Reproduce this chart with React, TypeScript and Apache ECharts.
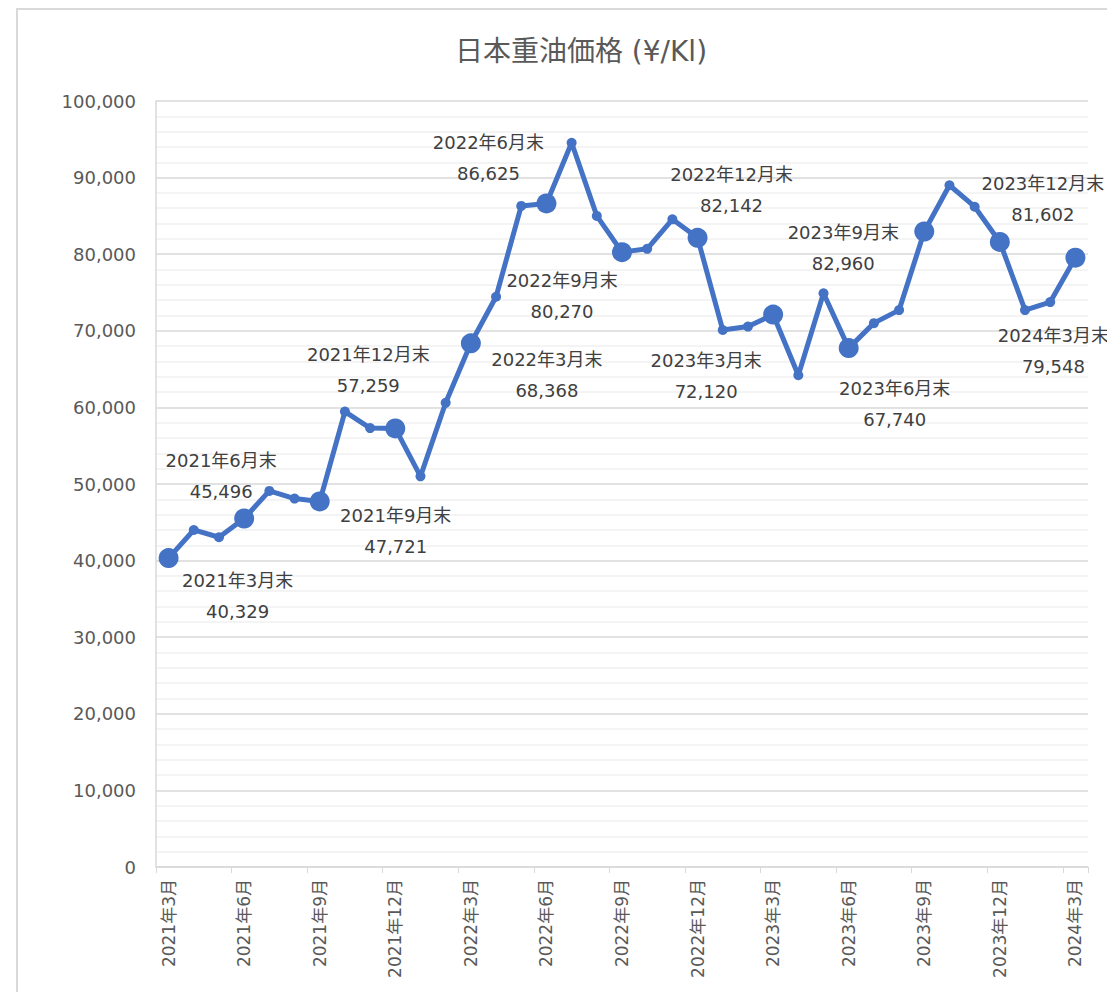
import React, { useEffect, useRef } from "react";
import * as echarts from "echarts";

const categories: string[] = [
  "2021年3月", "2021年4月", "2021年5月", "2021年6月", "2021年7月", "2021年8月",
  "2021年9月", "2021年10月", "2021年11月", "2021年12月", "2022年1月", "2022年2月",
  "2022年3月", "2022年4月", "2022年5月", "2022年6月", "2022年7月", "2022年8月",
  "2022年9月", "2022年10月", "2022年11月", "2022年12月", "2023年1月", "2023年2月",
  "2023年3月", "2023年4月", "2023年5月", "2023年6月", "2023年7月", "2023年8月",
  "2023年9月", "2023年10月", "2023年11月", "2023年12月", "2024年1月", "2024年2月",
  "2024年3月",
];

const prices: number[] = [
  40329, 44000, 43050, 45496, 49100, 48100,
  47721, 59450, 57300, 57259, 51000, 60600,
  68368, 74450, 86300, 86625, 94550, 85000,
  80270, 80700, 84550, 82142, 70100, 70550,
  72120, 64200, 74900, 67740, 71000, 72700,
  82960, 89000, 86200, 81602, 72700, 73750,
  79548,
];

// quarter-end highlighted points: index -> label offset [dx, dy]
const highlightIdx: number[] = [0, 3, 6, 9, 12, 15, 18, 21, 24, 27, 30, 33, 36];
const labelOffsets: [number, number][] = [
  [69, 38], [-23, -43], [76, 30], [-27, -58], [76, 32], [-58, -45], [-60, 44],
  [34, -48], [-67, 61], [46, 56], [-81, 16], [43, -43], [-22, 93],
];

const FONT = "'DejaVu Sans', 'Noto Sans CJK JP', sans-serif";

export default function App() {
  const ref = useRef<HTMLDivElement>(null);
  useEffect(() => {
    if (!ref.current) return;
    const chart = echarts.init(ref.current, undefined, { renderer: "svg" });
    const data = prices.map((v, i) => {
      const h = highlightIdx.indexOf(i);
      if (h < 0) return { value: v, symbolSize: 10 };
      const cat = categories[i];
      return {
        value: v,
        symbolSize: 20,
        label: {
          show: true,
          position: "inside",
          offset: labelOffsets[h],
          align: "center",
          verticalAlign: "middle",
          formatter: () => `${cat}末\n${v.toLocaleString("en-US")}`,
          fontSize: 18,
          lineHeight: 31,
          color: "#404040",
          fontFamily: FONT,
        },
      };
    });
    chart.setOption({
      animation: false,
      backgroundColor: "#ffffff",
      title: {
        text: "日本重油価格 (¥/Kl)",
        left: 568,
        top: 24,
        textAlign: "center",
        textStyle: { fontSize: 28, fontWeight: "normal", color: "#595959", fontFamily: FONT },
      },
      grid: { left: 148, right: 27, top: 93, bottom: 125, containLabel: false },
      xAxis: {
        type: "category",
        data: categories,
        boundaryGap: true,
        axisLine: { lineStyle: { color: "#d9d9d9", width: 1.5 } },
        axisTick: { show: true, interval: 2, length: 6, lineStyle: { color: "#d9d9d9" } },
        axisLabel: {
          interval: 2,
          rotate: 90,
          margin: 12,
          fontSize: 17,
          color: "#595959",
          fontFamily: FONT,
        },
        splitLine: { show: false },
      },
      yAxis: {
        type: "value",
        min: 0,
        max: 100000,
        interval: 10000,
        axisLine: { show: true, lineStyle: { color: "#d9d9d9", width: 1.5 } },
        axisTick: { show: false },
        axisLabel: {
          margin: 20,
          fontSize: 18,
          color: "#595959",
          fontFamily: FONT,
          formatter: (v: number) => v.toLocaleString("en-US"),
        },
        splitLine: { show: true, lineStyle: { color: "#d9d9d9", width: 1.5 } },
        minorTick: { show: false, splitNumber: 5 },
        minorSplitLine: { show: true, lineStyle: { color: "#f0f0f0", width: 1.5 } },
      },
      series: [
        {
          type: "line",
          data,
          symbol: "circle",
          showAllSymbol: true,
          lineStyle: { color: "#4472c4", width: 5 },
          itemStyle: { color: "#4472c4" },
          z: 3,
        },
      ],
      graphic: [
        { type: "rect", shape: { x: 8, y: 0, width: 2000, height: 2 }, style: { fill: "#d9d9d9" }, silent: true },
        { type: "rect", shape: { x: 8, y: 0, width: 2, height: 2000 }, style: { fill: "#d9d9d9" }, silent: true },
      ],
    });
    return () => chart.dispose();
  }, []);
  return <div ref={ref} style={{ width: 1107, height: 984 }} />;
}
